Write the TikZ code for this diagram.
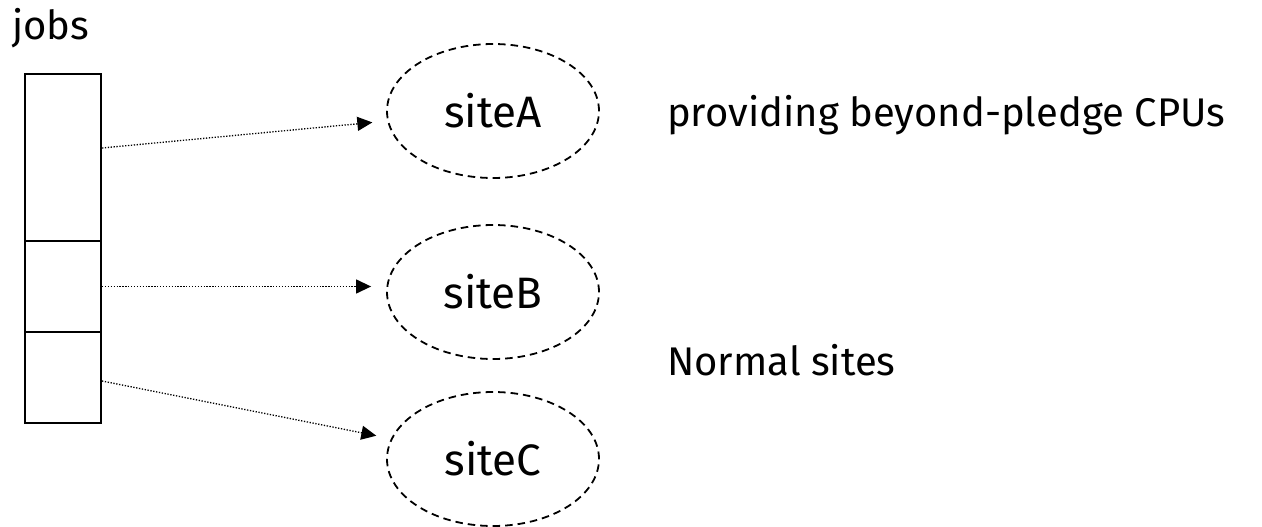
\documentclass[tikz,border=0pt]{standalone}
\usepackage{fontspec}
\setmainfont{Fira Sans}
\usetikzlibrary{arrows.meta,shapes.geometric}
\tikzset{
  label text/.style={inner sep=0pt, font=\fontsize{40}{48}\selectfont},
  cell/.style={draw, line width=2pt, minimum width=76pt, inner sep=0pt, anchor=north west},
  site/.style={draw, dash pattern=on 7.5pt off 5pt, line width=1.8pt, ellipse,
               minimum width=212pt, minimum height=134pt, inner sep=0pt,
               font=\fontsize{44}{52}\selectfont},
  dispatch/.style={line width=1.3pt, dash pattern=on 1.3pt off 1.6pt,
                   -{Triangle[length=15pt,width=14pt]}, shorten >=15pt}
}
\begin{document}
\begin{tikzpicture}[x=1pt,y=-1pt]
  \useasboundingbox (0,0) rectangle (1262,527);

  % job queue
  \node[label text, anchor=base west] (jobs) at (12,40) {jobs};
  \node[cell, minimum height=167pt] (cellA) at (24,73) {};
  \node[cell, minimum height=91pt]  (cellB) at (24,240) {};
  \node[cell, minimum height=91pt]  (cellC) at (24,331) {};

  % sites
  \node[site] (siteA) at (493,111) {siteA};
  \node[site] (siteB) at (493,292) {siteB};
  \node[site] (siteC) at (493,459) {siteC};

  % dispatch arrows
  \draw[dispatch] ([yshift=9.5pt]cellA.east) -- (siteA);
  \draw[dispatch] (cellB.east) -- (cellB.east -| siteB.west);
  \draw[dispatch] ([yshift=-3.5pt]cellC.east) -- (siteC);

  % descriptions
  \node[label text, anchor=base west] (beyond) at (667,127) {providing beyond-pledge CPUs};
  \node[label text, anchor=base west] (normal) at (667,375) {Normal sites};
\end{tikzpicture}
\end{document}
